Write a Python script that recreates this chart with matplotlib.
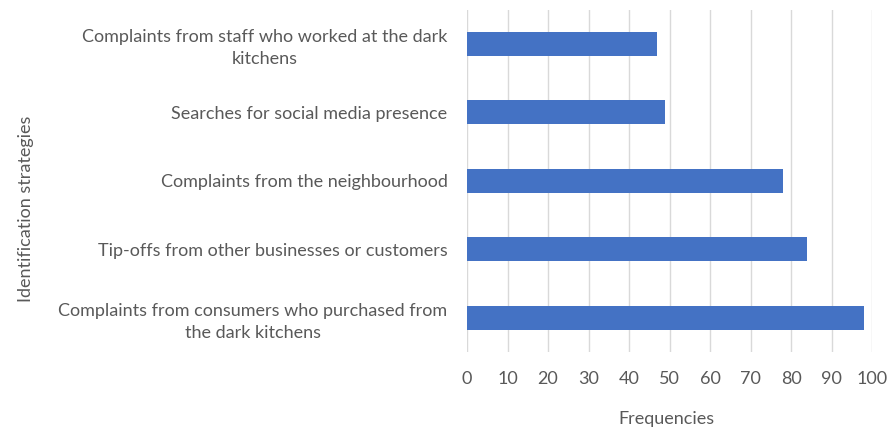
import numpy as np
import matplotlib as mpl
mpl.use('Agg')
import matplotlib.pyplot as plt

plt.rcParams['font.family'] = ['Lato', 'DejaVu Sans']

# --- data (top to bottom as shown)
strategies = ['Complaints from staff who worked at the dark\nkitchens',
              'Searches for social media presence',
              'Complaints from the neighbourhood',
              'Tip-offs from other businesses or customers',
              'Complaints from consumers who purchased from\nthe dark kitchens']
freqs = [47, 49, 78, 84, 98]

xticks = np.arange(0, 101, 10)

grey = '#595959'
bar_c = '#4472C4'

fig = plt.figure(figsize=(8.88, 4.30), dpi=100)
ax = fig.add_axes([0.5259, 0.1814, 0.4561, 0.7959])

y = np.arange(len(strategies))[::-1]
ax.barh(y, freqs, height=0.35, color=bar_c, zorder=3)

ax.set_xlim(0, 100)
ax.set_ylim(-0.5, len(strategies) - 0.5)
ax.set_xticks(xticks)
ax.set_yticks(y)
ax.set_yticklabels(strategies, multialignment='center', linespacing=1.45)

ax.grid(axis='x', color='#d9d9d9', lw=1, zorder=0)
for s in ax.spines.values():
    s.set_visible(False)

ax.tick_params(axis='both', length=0, colors=grey, labelsize=13)
ax.tick_params(axis='x', pad=14)
ax.tick_params(axis='y', pad=14)

fig.text(0.75, 0.025, 'Frequencies', color=grey, fontsize=13,
         ha='center', va='center')
fig.text(0.029, 0.515, 'Identification strategies', rotation=90, color=grey,
         fontsize=13, ha='center', va='center')

fig.savefig('out.png', dpi=100)
